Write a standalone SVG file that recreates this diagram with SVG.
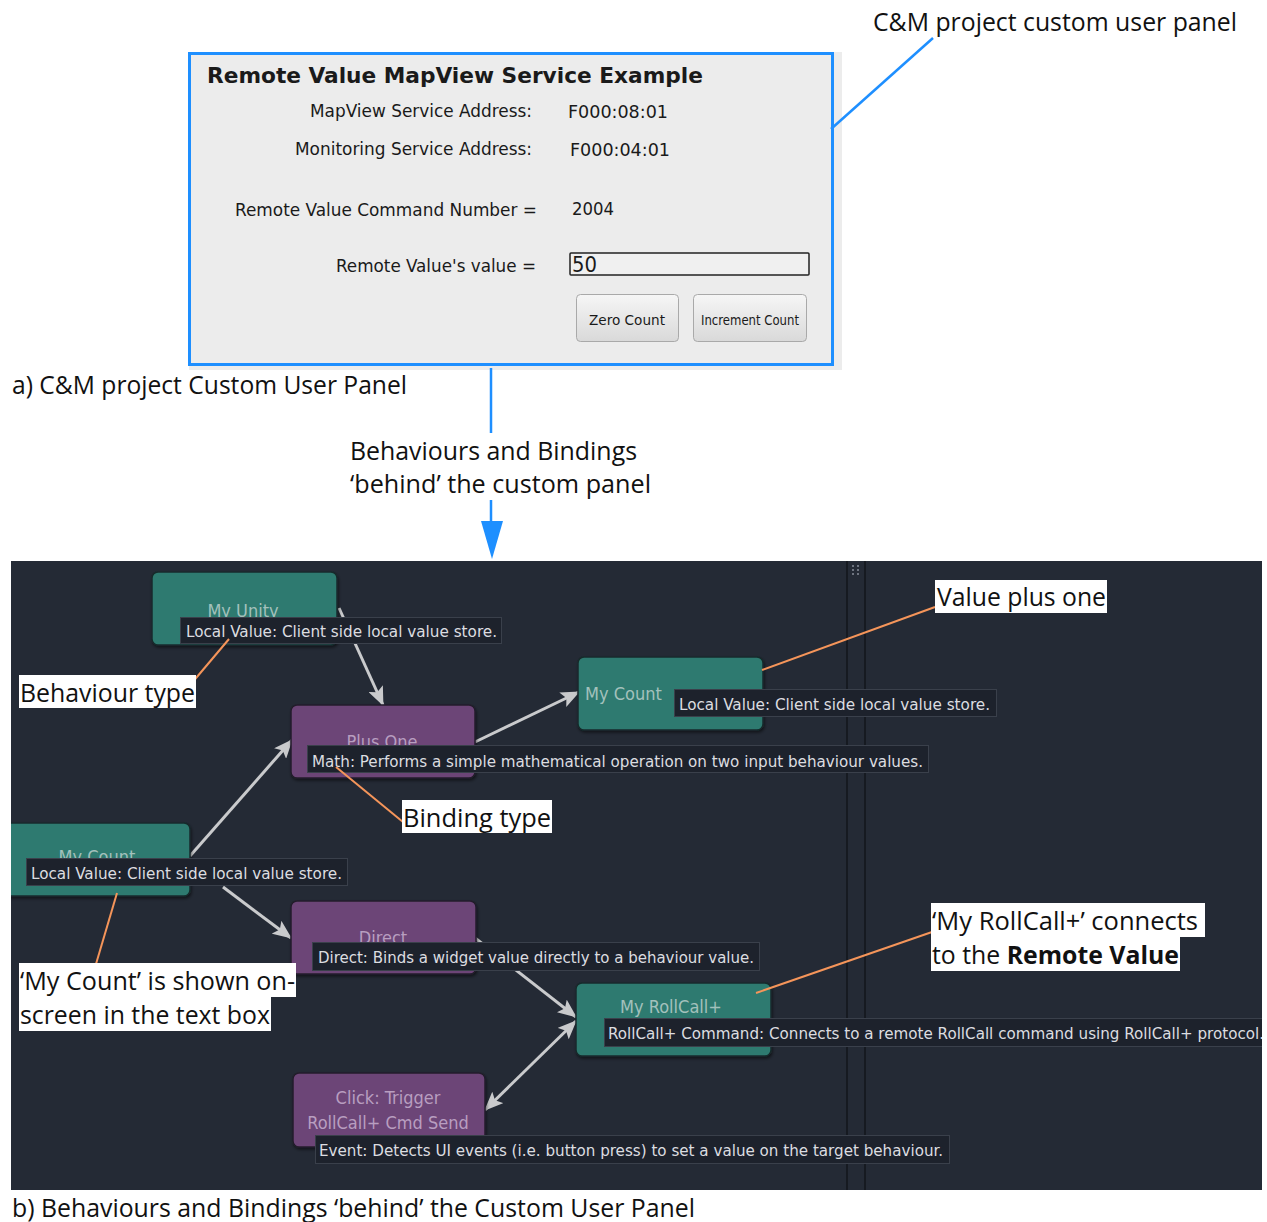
<svg xmlns="http://www.w3.org/2000/svg" width="1267" height="1222" viewBox="0 0 1267 1222">
  <style>
    .ann { font-family: "Open Sans", "Liberation Sans", sans-serif; font-size: 25px; fill: #111; }
    .ui { font-family: "DejaVu Sans Condensed", "DejaVu Sans", sans-serif; fill: #1a1a1a; }
    .lbl { font-family: "DejaVu Sans Condensed", "DejaVu Sans", sans-serif; font-size: 15px; fill: #dcdde0; }
    .tip { fill: #1d222c; stroke: #3a404b; stroke-width: 1; }
    .teal { fill: #2d7a6f; stroke: #172a2c; stroke-width: 1.5; }
    .purple { fill: #6c4477; stroke: #221e2b; stroke-width: 1.5; }
    .ntxt-t { font-family: "DejaVu Sans Condensed", "DejaVu Sans", sans-serif; font-size: 18px; fill: #a3c1bc; }
    .ntxt-p { font-family: "DejaVu Sans Condensed", "DejaVu Sans", sans-serif; font-size: 18px; fill: #b89ec0; }
    .wire { stroke: #c9cacc; stroke-width: 3; fill: none; }
    .call { stroke: #f5955a; stroke-width: 2; fill: none; }
    .blue { stroke: #1e8fff; fill: none; }
    .wbox { fill: #ffffff; }
  </style>
  <defs>
    <marker id="head" markerUnits="userSpaceOnUse" markerWidth="20" markerHeight="16" refX="18" refY="8" orient="auto-start-reverse">
      <path d="M0,0 L19,8 L0,16 L4,8 Z" fill="#c9cacc"/>
    </marker>
    <linearGradient id="btn" x1="0" y1="0" x2="0" y2="1">
      <stop offset="0" stop-color="#f6f6f6"/>
      <stop offset="1" stop-color="#d9d9d9"/>
    </linearGradient>
    <clipPath id="canvasClip">
      <rect x="11" y="561" width="1251" height="629"/>
    </clipPath>
    <filter id="shadow" x="-10%" y="-10%" width="130%" height="140%">
      <feDropShadow dx="1" dy="2" stdDeviation="1.5" flood-color="#000" flood-opacity="0.5"/>
    </filter>
  </defs>

  <rect x="0" y="0" width="1267" height="1222" fill="#ffffff"/>

  <!-- a) custom user panel -->
  <g id="user-panel">
    <rect x="189" y="52" width="653" height="318" fill="#ececec"/>
    <rect x="189.5" y="53.5" width="643" height="311" class="blue" stroke-width="3"/>
    <text x="207" y="83" class="ui" font-size="22" font-weight="bold" textLength="496" lengthAdjust="spacingAndGlyphs">Remote Value MapView Service Example</text>
    <text x="310" y="117" class="ui" font-size="18" textLength="222" lengthAdjust="spacingAndGlyphs">MapView Service Address:</text>
    <text x="568" y="118" class="ui" font-size="18" textLength="100" lengthAdjust="spacingAndGlyphs">F000:08:01</text>
    <text x="295" y="155" class="ui" font-size="18" textLength="237" lengthAdjust="spacingAndGlyphs">Monitoring Service Address:</text>
    <text x="570" y="156" class="ui" font-size="18" textLength="100" lengthAdjust="spacingAndGlyphs">F000:04:01</text>
    <text x="235" y="216" class="ui" font-size="18" textLength="302" lengthAdjust="spacingAndGlyphs">Remote Value Command Number =</text>
    <text x="572" y="215" class="ui" font-size="18" textLength="42" lengthAdjust="spacingAndGlyphs">2004</text>
    <text x="336" y="272" class="ui" font-size="18" textLength="200" lengthAdjust="spacingAndGlyphs">Remote Value's value =</text>
    <rect x="570" y="253" width="239" height="22" fill="#f0f0f0" stroke="#222" stroke-width="1.5" rx="1"/>
    <text x="572" y="272" class="ui" font-size="22" textLength="25" lengthAdjust="spacingAndGlyphs" fill="#000">50</text>
    <g id="btn-zero">
      <rect x="576.5" y="294.5" width="102" height="47" rx="4" fill="url(#btn)" stroke="#a9a9a9"/>
      <text x="589" y="325" class="ui" font-size="14" textLength="76" lengthAdjust="spacingAndGlyphs">Zero  Count</text>
    </g>
    <g id="btn-increment">
      <rect x="693.5" y="294.5" width="113" height="47" rx="4" fill="url(#btn)" stroke="#a9a9a9"/>
      <text x="701" y="325" class="ui" font-size="14" textLength="98" lengthAdjust="spacingAndGlyphs">Increment Count</text>
    </g>
  </g>

  <!-- panel callouts and captions -->
  <g id="panel-notes">
    <text x="873" y="31" class="ann" textLength="364" lengthAdjust="spacingAndGlyphs">C&amp;M project custom user panel</text>
    <line x1="933" y1="38" x2="831" y2="129" class="blue" stroke-width="2.5"/>
    <text x="12" y="394" class="ann" textLength="395" lengthAdjust="spacingAndGlyphs">a) C&amp;M project Custom User Panel</text>
    <line x1="491" y1="368" x2="491" y2="433" class="blue" stroke-width="2.5"/>
    <text x="350" y="460" class="ann" textLength="287" lengthAdjust="spacingAndGlyphs">Behaviours and Bindings</text>
    <text x="350" y="493" class="ann" textLength="301" lengthAdjust="spacingAndGlyphs">‘behind’ the custom panel</text>
    <line x1="491" y1="500" x2="491" y2="522" class="blue" stroke-width="2.5"/>
    <path d="M481,521 L503,521 L492,559 Z" fill="#1e8fff"/>
  </g>

  <!-- b) behaviour / binding editor canvas -->
  <rect x="11" y="561" width="1251" height="629" fill="#242a35"/>
  <g clip-path="url(#canvasClip)">
    <g id="dividers">
      <line x1="847" y1="561" x2="847" y2="1190" stroke="#161a21" stroke-width="2"/>
      <line x1="865" y1="561" x2="865" y2="1190" stroke="#161a21" stroke-width="2"/>
      <g fill="#6e7480">
        <rect x="852" y="565" width="2" height="2"/><rect x="857" y="565" width="2" height="2"/>
        <rect x="852" y="569" width="2" height="2"/><rect x="857" y="569" width="2" height="2"/>
        <rect x="852" y="573" width="2" height="2"/><rect x="857" y="573" width="2" height="2"/>
      </g>
    </g>

    <g id="connectors">
      <line x1="339" y1="608" x2="383" y2="705" class="wire" marker-end="url(#head)"/>
      <line x1="190" y1="856" x2="292" y2="740" class="wire" marker-end="url(#head)"/>
      <line x1="475" y1="742" x2="579" y2="692" class="wire" marker-end="url(#head)"/>
      <line x1="223" y1="887" x2="291" y2="938" class="wire" marker-end="url(#head)"/>
      <line x1="475" y1="938" x2="576" y2="1017" class="wire" marker-end="url(#head)"/>
      <line x1="485" y1="1110" x2="576" y2="1021" class="wire" marker-start="url(#head)" marker-end="url(#head)"/>
    </g>

    <g id="node-my-unity">
      <rect x="152" y="572" width="185" height="73" rx="6" class="teal" filter="url(#shadow)"/>
      <text x="243" y="617" class="ntxt-t" text-anchor="middle">My Unity</text>
      <rect x="180.5" y="617.5" width="321" height="26" class="tip"/>
      <text x="186" y="637" class="lbl" textLength="311" lengthAdjust="spacingAndGlyphs">Local Value: Client side local value store.</text>
    </g>

    <g id="node-my-count-plus-one">
      <rect x="578" y="657" width="185" height="73" rx="6" class="teal" filter="url(#shadow)"/>
      <text x="585" y="700" class="ntxt-t">My Count</text>
      <rect x="674.5" y="689.5" width="322" height="27" class="tip"/>
      <text x="679" y="710" class="lbl" textLength="311" lengthAdjust="spacingAndGlyphs">Local Value: Client side local value store.</text>
    </g>

    <g id="node-plus-one">
      <rect x="291" y="705" width="184" height="73" rx="6" class="purple" filter="url(#shadow)"/>
      <text x="382" y="748" class="ntxt-p" text-anchor="middle">Plus One</text>
      <rect x="307.5" y="745.5" width="621" height="27" class="tip"/>
      <text x="312" y="767" class="lbl" textLength="611" lengthAdjust="spacingAndGlyphs">Math: Performs a simple mathematical operation on two input behaviour values.</text>
    </g>

    <g id="node-my-count">
      <rect x="-5" y="823" width="195" height="73" rx="6" class="teal" filter="url(#shadow)"/>
      <text x="97" y="863" class="ntxt-t" text-anchor="middle">My Count</text>
      <rect x="26.5" y="858.5" width="321" height="27" class="tip"/>
      <text x="31" y="879" class="lbl" textLength="311" lengthAdjust="spacingAndGlyphs">Local Value: Client side local value store.</text>
    </g>

    <g id="node-direct">
      <rect x="291" y="901" width="185" height="73" rx="6" class="purple" filter="url(#shadow)"/>
      <text x="383" y="944" class="ntxt-p" text-anchor="middle">Direct</text>
      <rect x="312.5" y="942.5" width="447" height="28" class="tip"/>
      <text x="318" y="963" class="lbl" textLength="436" lengthAdjust="spacingAndGlyphs">Direct: Binds a widget value directly to a behaviour value.</text>
    </g>

    <g id="node-my-rollcall">
      <rect x="576" y="983" width="195" height="73" rx="6" class="teal" filter="url(#shadow)"/>
      <text x="671" y="1013" class="ntxt-t" text-anchor="middle" font-size="19">My RollCall+</text>
      <rect x="604.5" y="1018.5" width="670" height="28" class="tip"/>
      <text x="608" y="1039" class="lbl" textLength="656" lengthAdjust="spacingAndGlyphs">RollCall+ Command: Connects to a remote RollCall command using RollCall+ protocol.</text>
    </g>

    <g id="node-click-trigger">
      <rect x="293" y="1073" width="192" height="74" rx="6" class="purple" filter="url(#shadow)"/>
      <text x="388" y="1104" class="ntxt-p" text-anchor="middle" font-size="19">Click: Trigger</text>
      <text x="388" y="1129" class="ntxt-p" text-anchor="middle" font-size="19">RollCall+ Cmd Send</text>
      <rect x="315.5" y="1135.5" width="634" height="28" class="tip"/>
      <text x="319" y="1156" class="lbl" textLength="624" lengthAdjust="spacingAndGlyphs">Event: Detects UI events (i.e. button press) to set a value on the target behaviour.</text>
    </g>

    <!-- orange callouts -->
    <g id="callouts">
      <line x1="762" y1="670" x2="935" y2="607" class="call"/>
      <line x1="229" y1="639" x2="191" y2="684" class="call"/>
      <line x1="336" y1="767" x2="403" y2="822" class="call"/>
      <line x1="117" y1="893" x2="96" y2="964" class="call"/>
      <line x1="756" y1="993" x2="932" y2="932" class="call"/>
    </g>

    <g id="note-value-plus-one">
      <rect x="935" y="580" width="172" height="33" class="wbox"/>
      <text x="937" y="606" class="ann" textLength="169" lengthAdjust="spacingAndGlyphs">Value plus one</text>
    </g>
    <g id="note-behaviour-type">
      <rect x="19" y="675" width="177" height="33" class="wbox"/>
      <text x="20" y="702" class="ann" textLength="175" lengthAdjust="spacingAndGlyphs">Behaviour type</text>
    </g>
    <g id="note-binding-type">
      <rect x="402" y="800" width="150" height="33" class="wbox"/>
      <text x="403" y="827" class="ann" textLength="148" lengthAdjust="spacingAndGlyphs">Binding type</text>
    </g>
    <g id="note-my-count">
      <rect x="19" y="963" width="277" height="34" class="wbox"/>
      <rect x="19" y="997" width="252" height="34" class="wbox"/>
      <text x="20" y="990" class="ann" textLength="275" lengthAdjust="spacingAndGlyphs">‘My Count’ is shown on-</text>
      <text x="20" y="1024" class="ann" textLength="250" lengthAdjust="spacingAndGlyphs">screen in the text box</text>
    </g>
    <g id="note-rollcall">
      <rect x="931" y="903" width="274" height="34" class="wbox"/>
      <rect x="931" y="937" width="249" height="34" class="wbox"/>
      <text x="932" y="930" class="ann" textLength="266" lengthAdjust="spacingAndGlyphs">‘My RollCall+’ connects</text>
      <text x="932" y="964" class="ann" textLength="247" lengthAdjust="spacingAndGlyphs">to the <tspan font-weight="bold">Remote Value</tspan></text>
    </g>
  </g>

  <text x="12" y="1217" class="ann" textLength="683" lengthAdjust="spacingAndGlyphs">b) Behaviours and Bindings ‘behind’ the Custom User Panel</text>
</svg>
